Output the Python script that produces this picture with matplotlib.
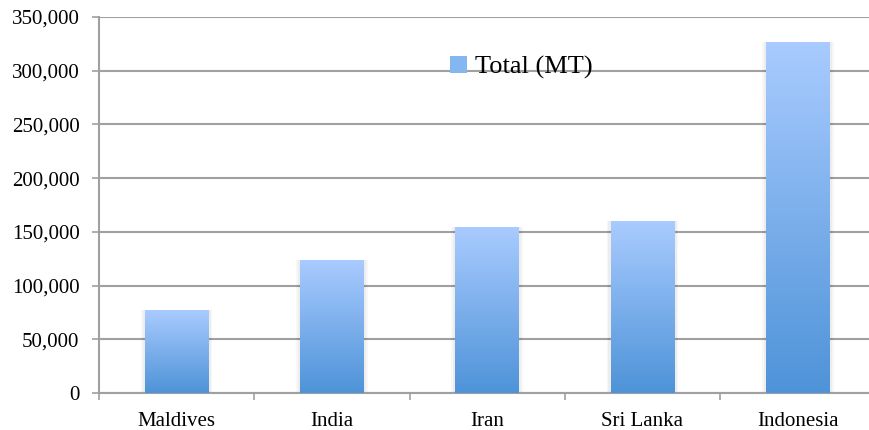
import numpy as np
import matplotlib
matplotlib.use("Agg")
import matplotlib.pyplot as plt
from matplotlib.colors import LinearSegmentedColormap
from matplotlib.patches import Patch
from matplotlib.ticker import FuncFormatter, MultipleLocator

countries = ["Maldives", "India", "Iran", "Sri Lanka", "Indonesia"]
total_mt = [77000, 123500, 154500, 160000, 326500]

plt.rcParams["font.family"] = ["Liberation Serif", "DejaVu Serif"]

grad = LinearSegmentedColormap.from_list("bar", ["#4e93d8", "#a9cbff"])

fig = plt.figure(figsize=(8.69, 4.30), dpi=100)
# plot area runs slightly past the right edge of the picture, as in the original
ax = fig.add_axes([0.1139, 0.086, 0.8935, 0.8745])

x = np.arange(len(countries))
bars = ax.bar(x, total_mt, width=0.41, color="none", edgecolor="none", zorder=3)

# vertical gradient inside every bar, with a faint soft shadow
g = np.linspace(0, 1, 256).reshape(-1, 1)
for b in bars:
    x0, y0 = b.get_x(), b.get_y()
    w, h = b.get_width(), b.get_height()
    for pad, a in [(0.025, 0.03), (0.014, 0.04)]:
        ax.add_patch(plt.Rectangle((x0 - pad, y0), w + 2 * pad, h,
                                   color="#000000", alpha=a, lw=0, zorder=2))
    ax.imshow(g, cmap=grad, origin="lower", aspect="auto",
              extent=[x0, x0 + w, y0, y0 + h], zorder=3)

ax.set_xlim(-0.5, len(countries) - 0.5)
ax.set_ylim(0, 350000)
ax.yaxis.set_major_locator(MultipleLocator(50000))
ax.yaxis.set_major_formatter(FuncFormatter(lambda v, p: f"{int(v):,}"))

ax.set_xticks(x)
ax.set_xticklabels(countries)
ax.set_xticks(np.arange(len(countries) + 1) - 0.5, minor=True)
ax.tick_params(axis="x", which="major", length=0, pad=13.5, labelsize=15)
ax.tick_params(axis="x", which="minor", length=5, width=1.2, color="#a0a0a0")
ax.tick_params(axis="y", length=5, width=1.2, color="#a0a0a0", pad=9, labelsize=15)

ax.grid(True, axis="y", color="#a0a0a0", linewidth=1.5, zorder=0)
ax.set_axisbelow(True)
for s in ["top", "right"]:
    ax.spines[s].set_visible(False)
for s in ["left", "bottom"]:
    ax.spines[s].set_color("#a0a0a0")
    ax.spines[s].set_linewidth(1.5)

handle = Patch(facecolor="#84b6f0", edgecolor="none")
leg = ax.legend([handle], ["Total (MT)"], loc="upper left",
                bbox_to_anchor=(0.422, 0.96), frameon=False,
                fontsize=19, handlelength=0.62, handleheight=0.62,
                handletextpad=0.3)

fig.savefig("out.png", dpi=100)
